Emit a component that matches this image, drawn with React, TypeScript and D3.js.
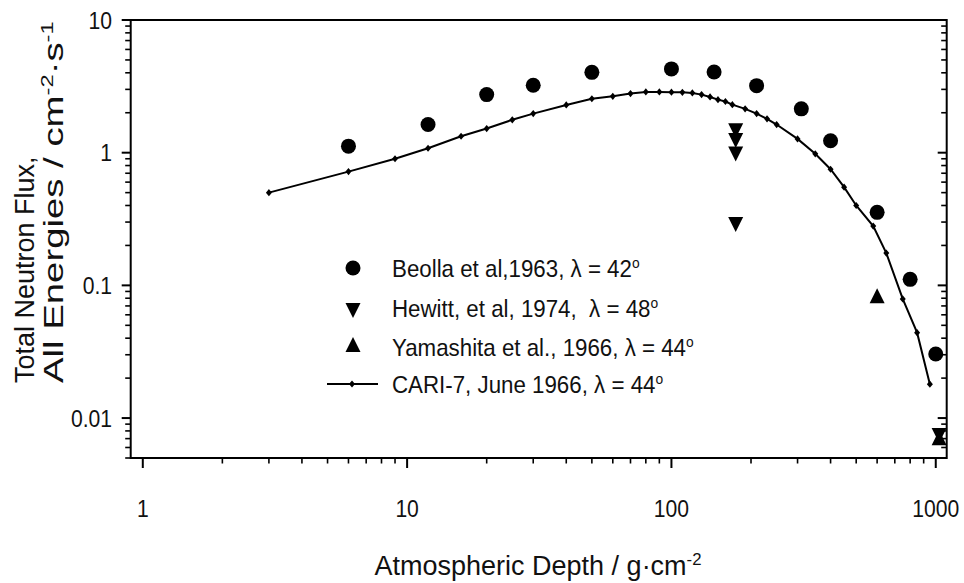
import React from 'react';
import * as d3 from 'd3';

// CARI-7 model curve (June 1966, λ = 44°)
const cariDepth = [3, 6, 9, 12, 16, 20, 25, 30, 40, 50, 60, 70, 80, 90, 100, 110, 120, 130, 140, 150, 160, 170, 190, 210, 230, 250, 300, 350, 400, 450, 500, 580, 650, 750, 850, 950];
const cariFlux = [0.5, 0.72, 0.9, 1.08, 1.33, 1.52, 1.77, 1.97, 2.29, 2.55, 2.66, 2.79, 2.87, 2.87, 2.86, 2.85, 2.82, 2.74, 2.63, 2.51, 2.43, 2.3, 2.14, 1.97, 1.8, 1.63, 1.27, 0.98, 0.75, 0.55, 0.4, 0.28, 0.175, 0.079, 0.044, 0.018];

// Beolla et al, 1963
const beollaDepth = [6, 12, 20, 30, 50, 100, 145, 210, 310, 400, 600, 800, 1000];
const beollaFlux = [1.12, 1.63, 2.74, 3.22, 4.03, 4.28, 4.06, 3.2, 2.14, 1.23, 0.355, 0.111, 0.0304];

// Hewitt et al, 1974
const hewittDepth = [175, 175, 175, 175, 1030];
const hewittFlux = [1.53, 1.29, 1.02, 0.3, 0.0077];

// Yamashita et al., 1966
const yamaDepth = [600, 1030];
const yamaFlux = [0.08, 0.0068];

const xTicks = [1, 10, 100, 1000];
const xTickLabels = ['1', '10', '100', '1000'];
const yTicks = [0.01, 0.1, 1, 10];
const yTickLabels = ['0.01', '0.1', '1', '10'];

const legendLabels = ['Beolla et al,1963, λ = 42', 'Hewitt, et al, 1974,  λ = 48', 'Yamashita et al., 1966, λ = 44', 'CARI-7, June 1966, λ = 44'];

const FONT = "'Liberation Sans', Arial, Helvetica, sans-serif";

const x = d3.scaleLog().domain([0.9, 1100]).range([130.7, 946.7]);
const y = d3.scaleLog().domain([0.005, 10]).range([458, 20]);

function minorTicks(lo: number, hi: number): number[] {
  const out: number[] = [];
  for (let e = -3; e <= 3; e++) {
    for (let k = 1; k <= 9; k++) {
      const v = k * Math.pow(10, e);
      if (v >= lo * 0.999 && v <= hi * 1.001) out.push(+v.toPrecision(3));
    }
  }
  return out;
}

const TW = 15;
const TH = 15;
const downTri = `M${-TW / 2},${-TH / 3}L${TW / 2},${-TH / 3}L0,${(2 * TH) / 3}Z`;
const upTri = `M${-TW / 2},${TH / 3}L${TW / 2},${TH / 3}L0,${(-2 * TH) / 3}Z`;
const diamond = 'M0,-3.6L3,0L0,3.6L-3,0Z';

export default function App() {
  const line = d3
    .line<number>()
    .x((_, i) => x(cariDepth[i]))
    .y((d) => y(d));
  const xr = x.range();
  const yr = y.range();
  const left = xr[0], right = xr[1], bottom = yr[0], top = yr[1];
  const xMinor = minorTicks(1, 1000).filter((v) => !xTicks.includes(v));
  const yMinor = minorTicks(0.005, 10).filter((v) => !yTicks.includes(v));
  const legendY = [268, 308, 347, 384];
  const legendMarkerX = 353;
  const legendTextX = 392;
  const TF = 24; // tick font
  const LF = 24; // legend font
  const AF = 27; // axis title font

  return (
    <svg width={964} height={583} style={{ position: 'absolute', left: 0, top: 0, background: '#fff' }} fontFamily={FONT}>
      <rect x={0} y={0} width={964} height={583} fill="#fff" />
      {/* frame */}
      <rect x={left} y={top} width={right - left} height={bottom - top} fill="none" stroke="#000" strokeWidth={2} />
      {/* bottom axis ticks (outward) */}
      {xTicks.map((v) => (
        <line key={'xM' + v} x1={x(v)} x2={x(v)} y1={bottom} y2={bottom + 10} stroke="#000" strokeWidth={2} />
      ))}
      {xMinor.map((v) => (
        <line key={'xm' + v} x1={x(v)} x2={x(v)} y1={bottom} y2={bottom + 5.5} stroke="#000" strokeWidth={1.6} />
      ))}
      {/* left axis ticks (outward) */}
      {yTicks.map((v) => (
        <line key={'yM' + v} x1={left - 9} x2={left} y1={y(v)} y2={y(v)} stroke="#000" strokeWidth={2} />
      ))}
      {yMinor.map((v) => (
        <line key={'ym' + v} x1={left - 5.5} x2={left} y1={y(v)} y2={y(v)} stroke="#000" strokeWidth={1.6} />
      ))}
      {/* right axis ticks (inward) */}
      {yTicks.map((v) => (
        <line key={'rM' + v} x1={right - 9} x2={right} y1={y(v)} y2={y(v)} stroke="#000" strokeWidth={2} />
      ))}
      {yMinor.map((v) => (
        <line key={'rm' + v} x1={right - 5.5} x2={right} y1={y(v)} y2={y(v)} stroke="#000" strokeWidth={1.6} />
      ))}
      {/* tick labels */}
      {xTicks.map((v, i) => (
        <text key={'xl' + v} transform={`translate(${x(v)},517) scale(0.88,1)`} textAnchor="middle" fontSize={TF} fill="#111">
          {xTickLabels[i]}
        </text>
      ))}
      {yTicks.map((v, i) => (
        <text key={'yl' + v} transform={`translate(112,${y(v)}) scale(0.88,1)`} dy="0.36em" textAnchor="end" fontSize={TF} fill="#111">
          {yTickLabels[i]}
        </text>
      ))}
      {/* axis titles */}
      <text x={538} y={575} textAnchor="middle" fontSize={AF} fill="#111">
        Atmospheric Depth / g·cm
        <tspan dy={-0.36 * AF} fontSize={0.62 * AF}>-2</tspan>
      </text>
      <g transform="translate(34,383) rotate(-90)">
        <text x={0} y={0} fontSize={AF} fill="#111">Total Neutron Flux,</text>
        <text transform="translate(0,29) scale(1.42,1)" x={0} y={0} fontSize={AF} fill="#111">
          All Energies / cm
          <tspan dy={-0.36 * AF} fontSize={0.62 * AF}>-2</tspan>
          <tspan dy={0.36 * AF}>·s</tspan>
          <tspan dy={-0.36 * AF} fontSize={0.62 * AF}>-1</tspan>
        </text>
      </g>
      {/* CARI-7 curve */}
      <path d={line(cariFlux) || ''} fill="none" stroke="#000" strokeWidth={2} />
      {cariFlux.map((v, i) => (
        <path key={'cd' + i} d={diamond} transform={`translate(${x(cariDepth[i])},${y(v)})`} fill="#000" />
      ))}
      {/* Beolla circles */}
      {beollaFlux.map((v, i) => (
        <circle key={'b' + i} cx={x(beollaDepth[i])} cy={y(v)} r={7.5} fill="#000" />
      ))}
      {/* Hewitt down triangles */}
      {hewittFlux.map((v, i) => (
        <path key={'h' + i} d={downTri} transform={`translate(${x(hewittDepth[i])},${y(v)})`} fill="#000" />
      ))}
      {/* Yamashita up triangles */}
      {yamaFlux.map((v, i) => (
        <path key={'yy' + i} d={upTri} transform={`translate(${x(yamaDepth[i])},${y(v)})`} fill="#000" />
      ))}
      {/* legend */}
      <circle cx={legendMarkerX} cy={legendY[0]} r={7.5} fill="#000" />
      <path d={downTri} transform={`translate(${legendMarkerX},${legendY[1]})`} fill="#000" />
      <path d={upTri} transform={`translate(${legendMarkerX},${legendY[2]})`} fill="#000" />
      <line x1={327} x2={378} y1={legendY[3]} y2={legendY[3]} stroke="#000" strokeWidth={2} />
      <path d={diamond} transform={`translate(${352},${legendY[3]})`} fill="#000" />
      {legendLabels.map((t, i) => (
        <text
          key={'lg' + i}
          transform={`translate(${legendTextX},${legendY[i]}) scale(0.93,1)`}
          dy="0.36em"
          fontSize={LF}
          fill="#111"
          style={{ whiteSpace: 'pre' }}
        >
          {t}
          <tspan dy={-0.36 * LF} fontSize={0.62 * LF}>o</tspan>
        </text>
      ))}
    </svg>
  );
}
